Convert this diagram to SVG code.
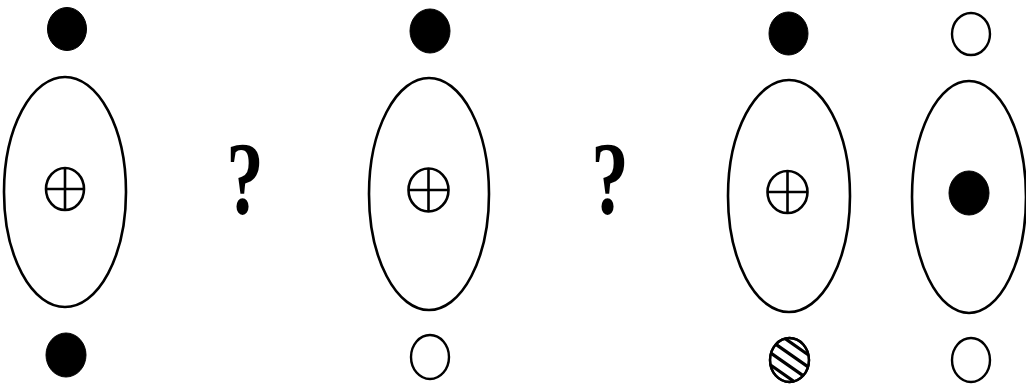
<svg xmlns="http://www.w3.org/2000/svg" width="1026" height="384" viewBox="0 0 1026 384">
<style>
.orb{fill:none;stroke:#000;stroke-width:2.6}
.dot{fill:#000;stroke:#000;stroke-width:1}
.ring{fill:#fff;stroke:#000;stroke-width:2.4}
.plus{fill:#fff;stroke:#000;stroke-width:2.6}
.q{font-family:"Liberation Serif",serif;font-weight:bold;font-size:104px;fill:#000}
.hatch{stroke:#000;stroke-width:3.2}
</style>
<defs>
<clipPath id="hc"><ellipse cx="789.5" cy="360" rx="19.5" ry="22"/></clipPath>
</defs>
<rect width="1026" height="384" fill="#fff"/>
<g id="atom1">
<ellipse class="dot" cx="67" cy="29" rx="19.5" ry="21.5"/>
<ellipse class="orb" cx="65" cy="192" rx="61" ry="115"/>
<g><ellipse class="plus" cx="65" cy="189" rx="19" ry="21"/><path class="plus" d="M46 189H84M65 168V210"/></g>
<ellipse class="dot" cx="66" cy="355" rx="20" ry="22"/>
</g>
<g id="q1"><text class="q" x="245" y="214" text-anchor="middle" transform="translate(245 0) scale(0.72 1) translate(-245 0)">?</text></g>
<g id="atom2">
<ellipse class="dot" cx="430" cy="31" rx="20" ry="22"/>
<ellipse class="orb" cx="429" cy="194" rx="60" ry="116"/>
<g><ellipse class="plus" cx="428.5" cy="190" rx="20" ry="21.5"/><path class="plus" d="M408.5 190H448.5M428.5 168.5V211.5"/></g>
<ellipse class="ring" cx="430" cy="357" rx="19" ry="22"/>
</g>
<g id="q2"><text class="q" x="610" y="214" text-anchor="middle" transform="translate(610 0) scale(0.72 1) translate(-610 0)">?</text></g>
<g id="atom3">
<ellipse class="dot" cx="788.5" cy="33.5" rx="19.5" ry="21.5"/>
<ellipse class="orb" cx="789" cy="196" rx="61" ry="116"/>
<g><ellipse class="plus" cx="787.5" cy="192" rx="20" ry="21"/><path class="plus" d="M767.5 192H807.5M787.5 171V213"/></g>
<g>
<ellipse class="ring" cx="789.5" cy="360" rx="19.5" ry="22"/>
<g clip-path="url(#hc)"><g transform="rotate(35 789.5 360)">
<path class="hatch" d="M760 345H820M760 355H820M760 365H820M760 375H820"/>
</g></g>
<ellipse cx="789.5" cy="360" rx="19.5" ry="22" fill="none" stroke="#000" stroke-width="2.4"/>
</g>
</g>
<g id="atom4">
<ellipse class="ring" cx="971" cy="34" rx="19" ry="21"/>
<ellipse class="orb" cx="969" cy="197" rx="57" ry="116"/>
<ellipse class="dot" cx="969" cy="193" rx="20" ry="22"/>
<ellipse class="ring" cx="971" cy="360" rx="19" ry="22"/>
</g>
<g id="connectors"></g>
</svg>
